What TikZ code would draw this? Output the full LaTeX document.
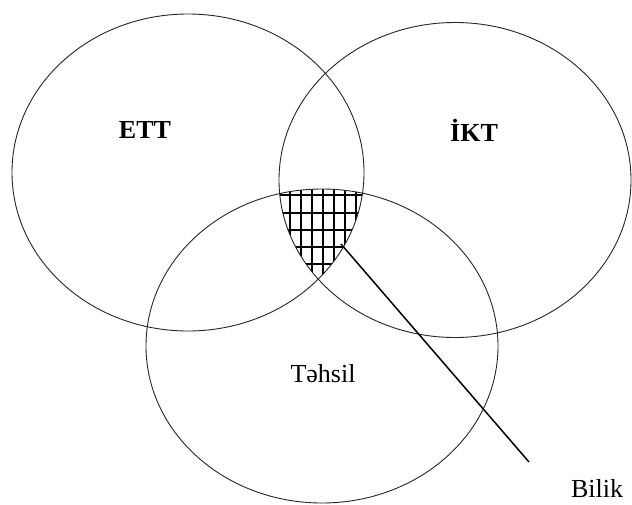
\documentclass[tikz,border=0pt]{standalone}
\usepackage{fontspec}
\usetikzlibrary{shapes.geometric}
\setmainfont{Liberation Serif}
\begin{document}
\begin{tikzpicture}[x=1pt,y=-1pt,
  setshape/.style={draw=black!85,line width=0.9pt,ellipse,inner sep=0pt,minimum width=352pt},
  hatchline/.style={draw=black,line width=1.6pt},
  pointer/.style={draw=black,line width=1.5pt},
  biglabel/.style={font=\fontsize{26}{30}\selectfont\bfseries,inner sep=0pt},
  normlabel/.style={font=\fontsize{26}{30}\selectfont,inner sep=0pt}]
\useasboundingbox (0,0) rectangle (632,504);
% hatching inside the triple intersection
\begin{scope}
  \clip (188,172.5) ellipse [x radius=176, y radius=158.5];
  \clip (455,180) ellipse [x radius=176, y radius=157.5];
  \clip (322,346) ellipse [x radius=176, y radius=157];
  \foreach \xx in {290,301,312,323,334,345,356} {
    \draw[hatchline] (\xx,180) -- (\xx,290);
  }
  \foreach \yy in {195,213,230,247,264} {
    \draw[hatchline] (270,\yy) -- (380,\yy);
  }
\end{scope}
% the three sets
\node[setshape,minimum height=317pt] (ett) at (188,172.5) {};
\node[setshape,minimum height=315pt] (ikt) at (455,180) {};
\node[setshape,minimum height=314pt] (tehsil) at (322,346) {};
% labels
\node[biglabel] (lett) at (145,130) {ETT};
\node[biglabel] (likt) at (474,130) {İKT};
\node[normlabel] (ltehsil) at (323,374) {Təhsil};
\node[normlabel] (lbilik) at (597,489) {Bilik};
% pointer
\coordinate (core) at (341,244);
\coordinate (tail) at (529,462);
\draw[pointer] (core) -- (tail);
\end{tikzpicture}
\end{document}
